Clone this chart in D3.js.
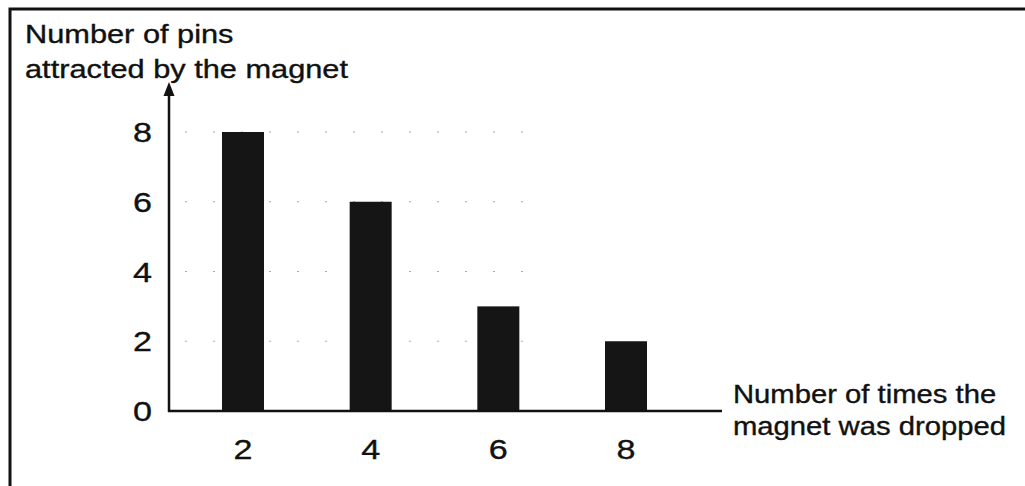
<!DOCTYPE html>
<html>
<head>
<meta charset="utf-8">
<script src="https://cdn.jsdelivr.net/npm/d3@7"></script>
<style>
  html, body { margin: 0; padding: 0; background: #fff; }
  svg { display: block; }
  text { font-family: "Liberation Sans", Arial, sans-serif; fill: #111; stroke: #111; stroke-width: 0.35px; }
</style>
</head>
<body>
<div id="chart"></div>
<script>
// data
var categories = ['2', '4', '6', '8'];
var pins       = [8, 6, 3, 2];
var yTicks     = [0, 2, 4, 6, 8];
var yTitle     = ['Number of pins', 'attracted by the magnet'];
var xTitle     = ['Number of times the', 'magnet was dropped'];

var width  = 1025;
var height = 486;

var svg = d3.select('#chart').append('svg')
    .attr('width', width)
    .attr('height', height);

// frame (top + left edges visible in the scan)
svg.append('path')
    .attr('d', 'M10,' + height + 'V9H' + width)
    .attr('fill', 'none')
    .attr('stroke', '#111')
    .attr('stroke-width', 3);

var x = d3.scalePoint()
    .domain(categories)
    .range([243, 626]);

var y = d3.scaleLinear()
    .domain([0, 8])
    .range([411, 132]);

var barWidth = 42;

// scanned text is wider than it is tall, so stretch it horizontally
function label(g, px, py, str, size, anchor, stretch) {
    g.append('text')
        .attr('transform', 'translate(' + px + ',' + py + ') scale(' + (stretch || 1.22) + ',1)')
        .attr('text-anchor', anchor || 'start')
        .style('font-size', size + 'px')
        .text(str);
}

// faint dotted grid remnants
svg.selectAll('.grid')
    .data(yTicks.filter(function(d) { return d > 0; }))
    .enter().append('line')
    .attr('class', 'grid')
    .attr('x1', 185)
    .attr('x2', 540)
    .attr('y1', function(d) { return y(d); })
    .attr('y2', function(d) { return y(d); })
    .attr('stroke', '#aaa')
    .attr('stroke-width', 1)
    .attr('stroke-dasharray', '2,26');

// bars
svg.selectAll('.bar')
    .data(pins)
    .enter().append('rect')
    .attr('class', 'bar')
    .attr('x', function(d, i) { return x(categories[i]) - barWidth / 2; })
    .attr('y', function(d) { return y(d); })
    .attr('width', barWidth)
    .attr('height', function(d) { return y(0) - y(d); })
    .attr('fill', '#151515');

// axes
svg.append('line')
    .attr('x1', 169).attr('x2', 169)
    .attr('y1', y(0) + 1).attr('y2', 92)
    .attr('stroke', '#111')
    .attr('stroke-width', 2.5);

svg.append('path')
    .attr('d', 'M169,82L163.5,96L174.5,96Z')
    .attr('fill', '#111');

svg.append('line')
    .attr('x1', 168).attr('x2', 722)
    .attr('y1', y(0)).attr('y2', y(0))
    .attr('stroke', '#111')
    .attr('stroke-width', 2.5);

// tick labels
yTicks.forEach(function(t) {
    label(svg, 152, y(t) + 10, String(t), 28, 'end');
});

categories.forEach(function(c) {
    label(svg, x(c), 459, c, 28, 'middle');
});

// axis titles
yTitle.forEach(function(s, i) {
    label(svg, 25, 43 + i * 35, s, 25, 'start', 1.23);
});

xTitle.forEach(function(s, i) {
    label(svg, 733, 403 + i * 32, s, 25, 'start', 1.17);
});
</script>
</body>
</html>
